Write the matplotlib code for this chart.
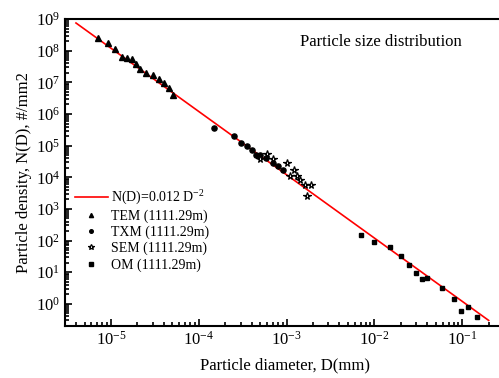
# particle size distribution, log-log
import numpy as np
import matplotlib.pyplot as plt
from matplotlib.ticker import LogLocator, NullFormatter

plt.rcParams['font.family'] = ['Liberation Serif', 'DejaVu Serif']
plt.rcParams['mathtext.fontset'] = 'custom'
plt.rcParams['mathtext.rm'] = 'Liberation Serif'
plt.rcParams['mathtext.it'] = 'Liberation Serif:italic'

# data
tem_d = [7.1e-6, 9.15e-6, 1.12e-5, 1.33e-5, 1.52e-5, 1.73e-5, 1.92e-5,
         2.15e-5, 2.52e-5, 3.0e-5, 3.54e-5, 4.07e-5, 4.6e-5, 5.07e-5]
tem_n = [2.45e8, 1.79e8, 1.16e8, 6.5e7, 5.8e7, 5.6e7, 3.7e7,
         2.56e7, 2.0e7, 1.66e7, 1.24e7, 9.7e6, 6.7e6, 3.85e6]

txm_d = [1.5e-4, 2.54e-4, 3.0e-4, 3.5e-4, 4.0e-4, 4.5e-4, 5.0e-4,
         5.9e-4, 7.0e-4, 8.0e-4, 9.0e-4]
txm_n = [3.66e5, 2.09e5, 1.17e5, 9.6e4, 7.5e4, 5.2e4, 4.9e4,
         4.1e4, 2.86e4, 2.34e4, 1.75e4]

sem_d = [5.0e-4, 6.0e-4, 7.0e-4, 1.0e-3, 1.1e-3, 1.2e-3, 1.3e-3,
         1.42e-3, 1.6e-3, 1.92e-3, 1.7e-3]
sem_n = [3.8e4, 5.6e4, 3.8e4, 2.86e4, 1.13e4, 1.67e4, 1.07e4,
         8.5e3, 5.5e3, 5.5e3, 2.6e3]

om_d = [6.98e-3, 1.0e-2, 1.5e-2, 2.0e-2, 2.5e-2, 2.97e-2, 3.45e-2,
        4.0e-2, 5.9e-2, 7.96e-2, 9.8e-2, 0.117, 0.148]
om_n = [146, 90, 61, 31.6, 16.4, 9.4, 6.1, 6.5, 3.2, 1.38, 0.59, 0.77, 0.38]

# fit N(D) = 0.012 D^-2
fit_coef = 0.012
fit_exp = -2
fit_range = [4e-6, 0.2]

fig = plt.figure(figsize=(4.99, 3.78), dpi=100)
ax = fig.add_axes([0.1303, 0.1376, 0.88, 0.812])

d_fit = np.logspace(np.log10(fit_range[0]), np.log10(fit_range[1]), 50)
ax.plot(d_fit, fit_coef * d_fit ** fit_exp, color='red', lw=1.2,
        label='N(D)=0.012 D$^{-2}$', zorder=2)

ax.plot(tem_d, tem_n, ls='none', marker='^', ms=4.3, color='black',
        label='TEM (1111.29m)', zorder=3)
ax.plot(txm_d, txm_n, ls='none', marker='o', ms=3.7, color='black',
        label='TXM (1111.29m)', zorder=3)
ax.plot(sem_d, sem_n, ls='none', marker='*', ms=5.5, mfc='white',
        mec='black', mew=0.9, label='SEM (1111.29m)', zorder=3)
ax.plot(om_d, om_n, ls='none', marker='s', ms=3.5, color='black',
        label='OM (1111.29m)', zorder=3)

ax.set_xscale('log')
ax.set_yscale('log')
ax.set_xlim(3e-6, 0.3)
ax.set_ylim(0.2, 1e9)

ax.xaxis.set_major_locator(LogLocator(base=10, numticks=20))
ax.xaxis.set_minor_locator(LogLocator(base=10, subs=np.arange(2, 10), numticks=20))
ax.yaxis.set_major_locator(LogLocator(base=10, numticks=20))
ax.yaxis.set_minor_locator(LogLocator(base=10, subs=np.arange(2, 10), numticks=20))
ax.xaxis.set_minor_formatter(NullFormatter())
ax.yaxis.set_minor_formatter(NullFormatter())

ax.tick_params(which='both', direction='in', top=False, right=False,
               labelsize=12, width=1.2)
ax.tick_params(which='major', length=5)
ax.tick_params(which='minor', length=3)
for s in ax.spines.values():
    s.set_linewidth(1.5)

ax.set_xlabel('Particle diameter, D(mm)', fontsize=12, labelpad=6)
ax.set_ylabel('Particle density, N(D), #/mm2', fontsize=12, labelpad=3)

ax.text(0.72, 0.925, 'Particle size distribution', transform=ax.transAxes,
        ha='center', va='center', fontsize=12)

ax.legend(loc='upper left', bbox_to_anchor=(0.0, 0.48), frameon=False,
          fontsize=10, handlelength=2.4, handletextpad=0.2, labelspacing=0.2,
          markerscale=0.7, borderaxespad=0.3)

fig.savefig('out.png', dpi=100)
